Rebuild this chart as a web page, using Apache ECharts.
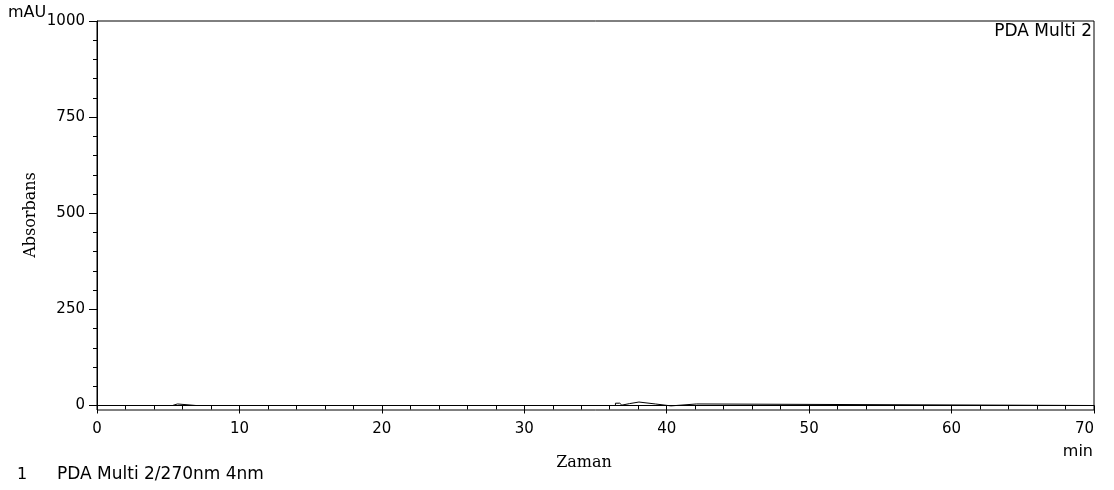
<!DOCTYPE html>
<html>
<head>
<meta charset="utf-8">
<script src="https://cdn.jsdelivr.net/npm/echarts@6/dist/echarts.min.js"></script>
<style>html,body{margin:0;padding:0;background:#fff}#c{width:1114px;height:490px}</style>
</head>
<body>
<div id="c"></div>
<script>
// Data (time in min, absorbance in mAU)
const timeMin = [0, 5.3, 5.65, 6.95, 7.05, 7.75, 7.85,
  36.4, 36.7, 36.85, 37.4, 38.05, 39.2, 40.3, 42.1, 70];
const absorbance = [0, 4, 0, 3, 0, 3, 0,
  6, 1, 5, 9, 4, -1, 4, 0, 0];
const yMajorTicks = [0, 250, 500, 750, 1000];
const yMinorTicks = [50, 100, 150, 200, 300, 350, 400, 450, 550, 600, 650, 700, 800, 850, 900, 950];
const xAxisName = 'Zaman';
const yAxisName = 'Absorbans';
const yUnit = 'mAU';
const xUnit = 'min';
const channelLabel = 'PDA Multi 2';
const legendIndex = '1';
const legendText = 'PDA Multi 2/270nm 4nm';

const chart = echarts.init(document.getElementById('c'), null, {renderer: 'canvas'});
const sans = 'DejaVu Sans';
const seriesData = timeMin.map((t, i) => [t, absorbance[i]]);
const yMin = -11.7;

chart.setOption({
  backgroundColor: '#fff',
  animation: false,
  grid: {left: 97, right: 20, top: 21, bottom: 80, show: true, borderColor: '#000', borderWidth: 1, backgroundColor: 'transparent'},
  xAxis: {
    type: 'value', min: 0, max: 70, interval: 10,
    axisLine: {show: true, lineStyle: {color: '#000', width: 1}},
    axisTick: {show: true, length: 8, lineStyle: {color: '#000', width: 1}},
    minorTick: {show: true, splitNumber: 5, length: 4, lineStyle: {color: '#000', width: 1}},
    axisLabel: {color: '#000', fontFamily: sans, fontSize: 15, margin: 12, alignMaxLabel: 'right'},
    splitLine: {show: false}
  },
  yAxis: [{
    type: 'value', min: yMin, max: 1000,
    axisLine: {show: true, lineStyle: {color: '#000', width: 1}},
    axisTick: {show: true, length: 8, customValues: yMajorTicks, lineStyle: {color: '#000', width: 1}},
    axisLabel: {color: '#000', fontFamily: sans, fontSize: 15, margin: 12, customValues: yMajorTicks, formatter: v => String(v)},
    splitLine: {show: false}
  }, {
    type: 'value', min: yMin, max: 1000, position: 'left',
    axisLine: {show: false},
    axisTick: {show: true, length: 4, customValues: yMinorTicks, lineStyle: {color: '#000', width: 1}},
    axisLabel: {show: false, customValues: yMinorTicks},
    splitLine: {show: false}
  }],
  series: [{
    type: 'line', data: seriesData, yAxisIndex: 0, showSymbol: false, symbol: 'none', step: 'end',
    lineStyle: {color: '#000', width: 1}, clip: true
  }],
  graphic: [
    {type: 'text', left: 8, top: 5, style: {text: yUnit, font: '16px "DejaVu Sans"', fill: '#000'}},
    {type: 'text', right: 22, top: 23, style: {text: channelLabel, font: '17px "DejaVu Sans"', fill: '#000'}},
    {type: 'text', right: 21, top: 444, style: {text: xUnit, font: '16px "DejaVu Sans"', fill: '#000'}},
    {type: 'text', x: 584, y: 463, style: {text: xAxisName, font: '16px "DejaVu Serif"', fill: '#000', align: 'center', verticalAlign: 'middle'}},
    {type: 'text', x: 31, y: 215, rotation: Math.PI / 2, style: {text: yAxisName, font: '16px "DejaVu Serif"', fill: '#000', align: 'center', verticalAlign: 'middle'}},
    {type: 'text', x: 17, y: 475, style: {text: legendIndex, font: '16px "DejaVu Sans"', fill: '#000', verticalAlign: 'middle'}},
    {type: 'text', x: 57, y: 475, style: {text: legendText, font: '17px "DejaVu Sans"', fill: '#000', verticalAlign: 'middle'}}
  ]
});
</script>
</body>
</html>
